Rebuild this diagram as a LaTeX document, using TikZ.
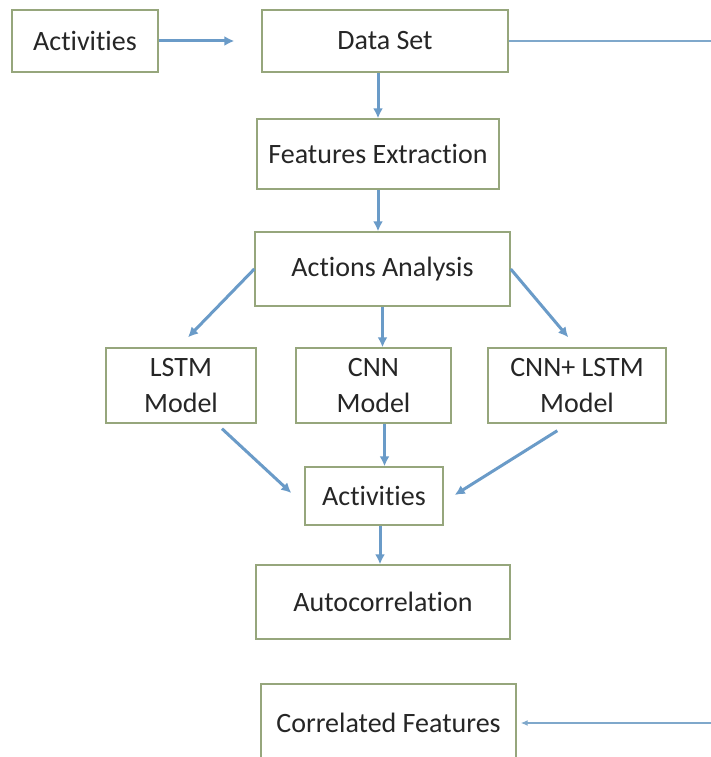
\documentclass[tikz,border=0pt]{standalone}
\usepackage{fontspec}
\setmainfont{Carlito}[Ligatures=NoCommon]
\usetikzlibrary{arrows.meta,calc}
\definecolor{boxline}{HTML}{96A67C}
\definecolor{flow}{HTML}{6A9BC8}
\definecolor{loopline}{HTML}{7FA8CB}
\tikzset{
  stage/.style={draw=boxline, line width=1.4pt, fill=white, inner sep=0pt,
    align=center, font=\fontsize{28}{36}\selectfont, text=black!85},
  flowarrow/.style={draw=flow, line width=3pt,
    -{Latex[length=10pt,width=10pt]}},
  feedback/.style={draw=loopline, line width=1.5pt,
    -{Latex[length=7pt,width=6pt]}}
}
\begin{document}
\begin{tikzpicture}[x=1pt,y=-1pt]
  \useasboundingbox (0,0) rectangle (711,757);
  \clip (0,0) rectangle (711,757);
  \fill[white] (0,0) rectangle (711,757);

  % stages of the pipeline
  \node[stage, minimum width=146pt, minimum height=62pt] (act1) at (85,41) {Activities};
  \node[stage, minimum width=246pt, minimum height=62pt] (data) at (385,41) {Data Set};
  \node[stage, minimum width=242pt, minimum height=70pt] (feat) at (378,154) {Features Extraction};
  \node[stage, minimum width=255pt, minimum height=74pt] (actan) at (382.5,269) {Actions Analysis};
  \node[stage, minimum width=150pt, minimum height=75pt] (lstm) at (181,385.5) {LSTM\\Model};
  \node[stage, minimum width=155pt, minimum height=75pt] (cnn) at (373.5,385.5) {CNN\\Model};
  \node[stage, minimum width=178pt, minimum height=75pt] (cnnlstm) at (577,385.5) {CNN+ LSTM\\Model};
  \node[stage, minimum width=138pt, minimum height=58pt] (act2) at (374,496) {Activities};
  \node[stage, minimum width=254pt, minimum height=74pt] (auto) at (383,602) {Autocorrelation};
  \node[stage, minimum width=255pt, minimum height=78pt] (corr) at (388.5,723) {Correlated Features};

  % free ends of the connectors
  \coordinate (dsgap) at ($(data.west)+(-27,0)$);
  \coordinate (lstmin) at ($(lstm.north)+(7,-10)$);
  \coordinate (cnnlstmin) at ($(cnnlstm.north west)+(81,-10)$);
  \coordinate (lstmout) at ($(lstm.south)+(41,5)$);
  \coordinate (act2inl) at ($(act2.west)+(-13,-3)$);
  \coordinate (cnnlstmout) at ($(cnnlstm.south west)+(70,7)$);
  \coordinate (act2inr) at ($(act2.east)+(11,-1)$);
  \coordinate (loopNE) at (722,41);
  \coordinate (loopSE) at (722,723);
  \coordinate (corrin) at ($(corr.east)+(4,0)$);

  % main flow
  \draw[flowarrow] (act1.east) -- (dsgap);
  \draw[flowarrow] (feat.north |- data.south) -- (feat.north);
  \draw[flowarrow] (feat.south) -- (feat.south |- actan.north);
  \draw[flowarrow] (actan.west) -- (lstmin);
  \draw[flowarrow] (actan.south) -- (actan.south |- cnn.north);
  \draw[flowarrow] (actan.east) -- (cnnlstmin);
  \draw[flowarrow] (lstmout) -- (act2inl);
  \draw[flowarrow] ($(cnn.south)+(11,0)$) -- (act2.north -| {$(cnn.south)+(11,0)$});
  \draw[flowarrow] (cnnlstmout) -- (act2inr);
  \draw[flowarrow] ($(act2.south)+(6,0)$) -- (auto.north -| {$(act2.south)+(6,0)$});

  % feedback loop round the right side
  \draw[feedback] (data.east) -- (loopNE) -- (loopSE) -- (corrin);
\end{tikzpicture}
\end{document}
